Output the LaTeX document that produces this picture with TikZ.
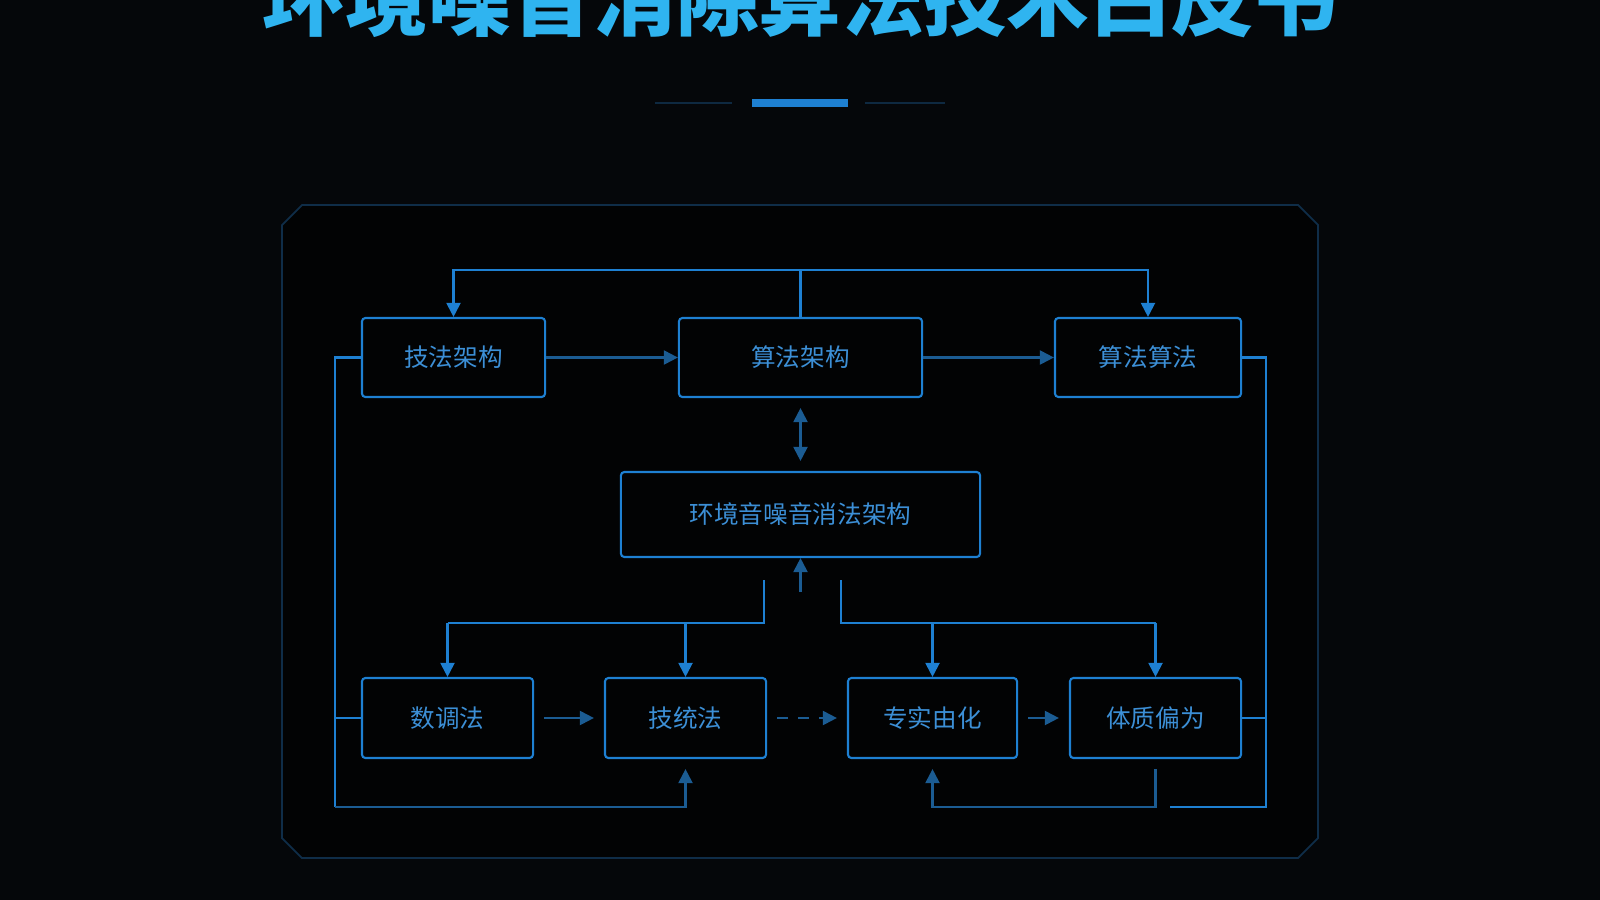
\documentclass[tikz,border=0pt]{standalone}
\usepackage{fontspec}
\setmainfont{Noto Sans CJK SC}
\usetikzlibrary{arrows.meta}
\definecolor{bgcol}{HTML}{05070A}
\definecolor{linecol}{HTML}{1E80D2}
\definecolor{dimcol}{HTML}{1B5C93}
\definecolor{txtcol}{HTML}{3C8FD6}
\definecolor{titlecol}{HTML}{2FB4F0}
\begin{document}
\begin{tikzpicture}[x=0.01cm, y=-0.01cm, line width=0.6pt,
  box/.style={draw=linecol, rounded corners=1pt, text=txtcol, inner sep=0pt, font=\fontsize{7pt}{7pt}\selectfont},
  arr/.style={-{Triangle[length=4pt,width=4pt]}, draw=linecol},
  darr/.style={-{Triangle[length=4pt,width=4pt]}, draw=dimcol}]

% background
\fill[bgcol] (0,0) rectangle (1600,900);
\useasboundingbox (0,0) rectangle (1600,900);

% title and rule
\node[text=titlecol, font=\bfseries\fontsize{23.5pt}{23.5pt}\selectfont] (title) at (800,-2) {环境噪音消除算法技术白皮书};
\draw[line width=0.8pt, color=dimcol!40!bgcol] (655,103) -- (732,103);
\draw[line width=0.8pt, color=dimcol!40!bgcol] (865,103) -- (945,103);
\draw[line width=2.5pt, color=linecol] (752,103) -- (848,103);

% panel
\draw[line width=0.5pt, color=dimcol!45!bgcol, fill=black!60!bgcol]
  (302,205) -- (1298,205) -- (1318,225) -- (1318,838) -- (1298,858)
  -- (302,858) -- (282,838) -- (282,225) -- cycle;

% nodes
\node[box, minimum width=1.83cm, minimum height=0.79cm] (tech) at (453.5,357.5) {技法架构};
\node[box, minimum width=2.43cm, minimum height=0.79cm] (algo) at (800.5,357.5) {算法架构};
\node[box, minimum width=1.86cm, minimum height=0.79cm] (calc) at (1148,357.5) {算法算法};
\node[box, minimum width=3.59cm, minimum height=0.85cm] (core) at (800.5,514.5) {环境音噪音消法架构};
\node[box, minimum width=1.71cm, minimum height=0.80cm] (data) at (447.5,718) {数调法};
\node[box, minimum width=1.61cm, minimum height=0.80cm] (stat) at (685.5,718) {技统法};
\node[box, minimum width=1.69cm, minimum height=0.80cm] (real) at (932.5,718) {专实由化};
\node[box, minimum width=1.71cm, minimum height=0.80cm] (body) at (1155.5,718) {体质偏为};

% top bus
\draw[linecol] (algo.north) -- (800.5,270);
\draw[arr] (800.5,270) -| (tech.north);
\draw[arr] (800.5,270) -| (calc.north);
\draw[darr] (tech.east) -- (algo.west);
\draw[darr] (algo.east) -- (calc.west);
\draw[{Triangle[length=4pt,width=4pt]}-{Triangle[length=4pt,width=4pt]}, draw=dimcol] ([yshift=-1mm]algo.south) -- ([yshift=1mm]core.north);
\draw[darr] (800.5,592) -- (core.south);

% lower branches
\coordinate (lsplit) at (764,580);
\coordinate (rsplit) at (841,580);
\draw[linecol] (lsplit) -- (764,623) -| (data.north |- 0,623);
\draw[arr] (data.north |- 0,623) -- (data.north);
\draw[arr] (stat.north |- 0,623) -- (stat.north);
\draw[linecol] (rsplit) -- (841,623) -| (body.north |- 0,623);
\draw[arr] (body.north |- 0,623) -- (body.north);
\draw[arr] (real.north |- 0,623) -- (real.north);

% bottom row
\draw[darr, shorten <=1mm, shorten >=1mm] (data.east) -- (stat.west);
\draw[darr, dashed, shorten <=1mm, shorten >=1mm] (stat.east) -- (real.west);
\draw[darr, shorten <=1mm, shorten >=1mm] (real.east) -- (body.west);

% loops
\draw[linecol] (tech.west) -- (335,357.5) -- (335,807);
\draw[darr] (335,807) -| ([yshift=-1mm]stat.south);
\draw[linecol] (data.west) -- (335,718);
\draw[linecol] (calc.east) -- (1266,357.5) -- (1266,807) -- (1170,807);
\draw[linecol] (body.east) -- (1266,718);
\draw[darr] ([yshift=-1mm]body.south) -- (body.south |- 0,807) -| ([yshift=-1mm]real.south);

\end{tikzpicture}
\end{document}
